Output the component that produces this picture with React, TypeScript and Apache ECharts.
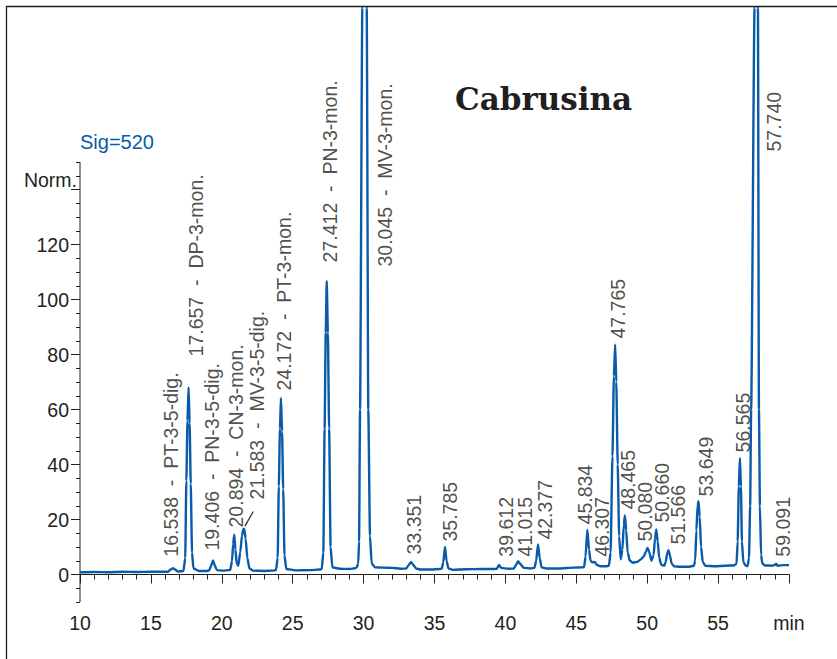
import React, { useEffect, useRef } from "react";
import * as echarts from "echarts";

// Detector trace, signal at 520 nm: [retention time (min), response (Norm.)]
const trace: [number, number][] = [
  [10.0, 0.8], [11.0, 0.9], [12.0, 0.8], [13.0, 1.0], [14.0, 0.9], [15.0, 1.0], [15.8, 1.0],
  [16.2, 1.0], [16.4, 1.8], [16.55, 2.3], [16.7, 1.8], [16.9, 1.1],
  [17.3, 1.3], [17.42, 6], [17.5, 34], [17.58, 56], [17.657, 68], [17.73, 55], [17.81, 33], [17.9, 8], [18.0, 2.2], [18.4, 1.3], [18.9, 1.3],
  [19.1, 1.4], [19.25, 3.2], [19.38, 5.1], [19.5, 3.4], [19.65, 1.6], [20.1, 1.4], [20.5, 1.6],
  [20.6, 1.7], [20.72, 5], [20.8, 11], [20.88, 14.5], [20.96, 9], [21.05, 4], [21.16, 3.2],
  [21.3, 8], [21.42, 14], [21.52, 16.5], [21.58, 16.7], [21.68, 13], [21.8, 6], [21.95, 2.2], [22.2, 1.4], [23.0, 1.3], [23.6, 1.4],
  [23.82, 1.6], [23.94, 6], [24.02, 32], [24.1, 53], [24.172, 64.2], [24.25, 52], [24.33, 31], [24.42, 7], [24.55, 2.0], [25.2, 1.5], [26.2, 1.6], [26.9, 1.8],
  [27.05, 2.0], [27.16, 8], [27.25, 53], [27.33, 88], [27.4, 106.7], [27.48, 88], [27.57, 53], [27.67, 10], [27.8, 2.6], [28.3, 2.1], [29.0, 2.0], [29.4, 2.3],
  [29.52, 2.6], [29.62, 4], [29.68, 12], [29.75, 60], [29.91, 206], [30.07, 500], [30.22, 206], [30.33, 60], [30.45, 14], [30.57, 4], [30.8, 2.6], [31.4, 2.5], [32.0, 2.4], [32.6, 2.1],
  [33.0, 2.2], [33.15, 3.2], [33.34, 4.6], [33.5, 3.5], [33.7, 2.2], [34.0, 1.8], [34.8, 1.8], [35.4, 2.0],
  [35.52, 2.2], [35.62, 4.5], [35.74, 10], [35.85, 5], [35.98, 2.2], [36.3, 1.7], [37.2, 1.9], [38.3, 2.0], [39.2, 2.0],
  [39.4, 2.1], [39.55, 3.5], [39.7, 2.4], [40.2, 2.1], [40.6, 2.2],
  [40.75, 3.5], [40.89, 4.8], [41.05, 3.8], [41.3, 2.4], [41.8, 2.2],
  [42.05, 2.4], [42.17, 5], [42.3, 10.9], [42.42, 6], [42.55, 2.6], [42.9, 2.2], [43.8, 2.2], [44.8, 2.5], [45.4, 2.6],
  [45.55, 2.7], [45.65, 6.5], [45.78, 16.3], [45.9, 9], [46.0, 5], [46.15, 4.4], [46.3, 4.6], [46.45, 3.5], [46.7, 3.0], [47.1, 3.0],
  [47.3, 3.2], [47.42, 8], [47.55, 43], [47.65, 72], [47.74, 83.6], [47.82, 70], [47.92, 40], [48.02, 14], [48.13, 5.5],
  [48.25, 9], [48.35, 18], [48.43, 21.5], [48.52, 16], [48.62, 8], [48.78, 5], [49.0, 4.3], [49.3, 4.6],
  [49.55, 5.5], [49.75, 6.5], [49.92, 8.5], [50.03, 9.7], [50.15, 8], [50.3, 5],
  [50.45, 7], [50.55, 13], [50.64, 16.4], [50.74, 12], [50.85, 6], [51.0, 3.5], [51.2, 3.2],
  [51.3, 4.5], [51.42, 7.8], [51.5, 8.8], [51.6, 7], [51.72, 4], [51.9, 3.0], [52.3, 2.8], [52.9, 2.8], [53.3, 3.2],
  [53.38, 5], [53.47, 16], [53.55, 25], [53.62, 26.7], [53.7, 21], [53.8, 10], [53.92, 4.5], [54.1, 3.2], [54.8, 3.0], [55.5, 3.2], [56.1, 3.3],
  [56.3, 3.8], [56.38, 12], [56.46, 32], [56.54, 42.4], [56.61, 32], [56.68, 12], [56.78, 4.5], [56.95, 3.2],
  [57.08, 3.0], [57.18, 6], [57.26, 25], [57.33, 60], [57.57, 206], [57.69, 600], [57.81, 206], [57.88, 60], [57.95, 25], [58.03, 7], [58.12, 4],
  [58.3, 3.3], [58.8, 3.2], [59.0, 3.5], [59.09, 3.9], [59.2, 3.2], [59.6, 3.4], [60.0, 3.4],
];

// Integrated peaks: retention time as printed, and compound where identified
const peakTimes = [
  "16.538", "17.657", "19.406", "20.894", "21.583", "24.172", "27.412", "30.045",
  "33.351", "35.785", "39.612", "41.015", "42.377", "45.834", "46.307", "47.765",
  "48.465", "50.080", "50.660", "51.566", "53.649", "56.565", "57.740", "59.091",
];
const peakNames = [
  "PT-3-5-dig.", "DP-3-mon.", "PN-3-5-dig.", "CN-3-mon.", "MV-3-5-dig.", "PT-3-mon.", "PN-3-mon.", "MV-3-mon.",
  "", "", "", "", "", "", "", "", "", "", "", "", "", "", "", "",
];

// Axis ticks
const majorYTicks = [0, 20, 40, 60, 80, 100, 120, 140];
const yTickLabels = [0, 20, 40, 60, 80, 100, 120];
const minorYTicks = [-10, -5, 0, 5, 10, 15, 20, 25, 30, 35, 40, 45, 50, 55, 60, 65, 70, 75, 80, 85, 90, 95, 100, 105, 110, 115, 120, 125, 130, 135, 140, 145, 150];

// Where each rotated peak annotation starts (time, level), in chart units
const labelAnchor: [number, number][] = [
  [16.42, 6.5], [18.18, 79.3], [19.3, 8.7], [21.0, 17.1], [22.48, 27.3], [24.39, 66.9], [27.63, 113.5], [31.51, 112],
  [33.58, 7.3], [36.1, 12], [40.05, 6.5], [41.4, 6.5], [42.82, 12.7], [45.63, 18.2], [46.81, 6.5], [47.94, 85.8],
  [48.65, 23.6], [49.85, 12], [51.05, 18.9], [52.18, 10.9], [54.15, 28.4], [56.76, 44.4], [58.94, 153.8], [59.58, 6.5],
];

const BLUE = "#0a5aaa";
const INK = "#231f20";
const FONT = '"Liberation Sans", Arial, Helvetica, sans-serif';

export default function App() {
  const ref = useRef<HTMLDivElement>(null);

  useEffect(() => {
    if (!ref.current) return;
    const chart = echarts.init(ref.current, undefined, { renderer: "svg" });

    const labelData = peakTimes.map((t, i) => ({
      name: peakNames[i] ? `${t}  -  ${peakNames[i]}` : t,
      value: labelAnchor[i],
    }));

    // leader from the shifted 21.583 annotation down to its peak
    const li = peakTimes.indexOf("21.583");
    const leader = [
      [labelAnchor[li][0] - 0.26, labelAnchor[li][1] - 4.4],
      [Number(peakTimes[li]) + 0.05, 17.6],
    ];

    chart.setOption({
      animation: false,
      backgroundColor: "#ffffff",
      textStyle: { fontFamily: FONT },
      grid: { left: 80, right: 48, top: 8, bottom: 57, containLabel: false },
      xAxis: {
        type: "value",
        min: 10,
        max: 60,
        interval: 5,
        axisLine: { lineStyle: { color: INK, width: 1 } },
        axisTick: { length: 9, lineStyle: { color: INK, width: 1 } },
        minorTick: { show: true, splitNumber: 5, length: 5, lineStyle: { color: INK, width: 1 } },
        axisLabel: {
          fontSize: 19.5,
          color: INK,
          margin: 11,
          showMinLabel: true,
          showMaxLabel: true,
          formatter: (v: number) => (v === 60 ? "min" : String(v)),
        },
        splitLine: { show: false },
        minorSplitLine: { show: false },
      },
      yAxis: [
        {
          type: "value",
          min: -10,
          max: 206,
          axisLine: { show: false },
          axisTick: { show: true, customValues: majorYTicks, length: 9, lineStyle: { color: INK, width: 1 } },
          axisLabel: { customValues: yTickLabels, fontSize: 19.5, color: INK, margin: 11 },
          splitLine: { show: false },
        },
        {
          type: "value",
          min: -10,
          max: 206,
          position: "left",
          axisLine: { show: false },
          axisTick: { show: true, customValues: minorYTicks, length: 4, lineStyle: { color: INK, width: 1 } },
          axisLabel: { show: false },
          splitLine: { show: false },
        },
      ],
      series: [
        {
          name: "axis",
          type: "line",
          data: [[10, -10], [10, 150]],
          symbol: "none",
          clip: false,
          silent: true,
          lineStyle: { color: INK, width: 1 },
          z: 1,
        },
        {
          name: "Sig=520",
          type: "line",
          data: trace,
          showSymbol: false,
          symbol: "none",
          smooth: 0.2,
          smoothMonotone: "x",
          lineStyle: { color: BLUE, width: 2.4 },
          z: 3,
        },
        {
          name: "leader",
          type: "line",
          data: leader,
          symbol: "none",
          silent: true,
          lineStyle: { color: INK, width: 1.2 },
          z: 3,
        },
        {
          name: "peaks",
          type: "scatter",
          data: labelData,
          symbolSize: 1,
          itemStyle: { color: "rgba(0,0,0,0)" },
          silent: true,
          label: {
            show: true,
            position: "inside",
            formatter: "{b}",
            rotate: 90,
            align: "left",
            verticalAlign: "middle",
            fontSize: 19.5,
            color: INK,
            fontFamily: FONT,
          },
          z: 4,
        },
      ],
      graphic: [
        {
          type: "rect",
          shape: { x: 6.5, y: 6.5, width: 900, height: 900 },
          style: { fill: "none", stroke: INK, lineWidth: 1.3 },
          silent: true,
          z: 10,
        },
        {
          type: "text",
          x: 455,
          y: 99,
          style: {
            text: "Cabrusina",
            font: 'bold 31px "DejaVu Serif", "Liberation Serif", serif',
            fill: INK,
            verticalAlign: "middle",
          },
        },
        {
          type: "text",
          x: 80,
          y: 142,
          style: { text: "Sig=520", font: `20px ${FONT}`, fill: BLUE, verticalAlign: "middle" },
        },
        {
          type: "text",
          x: 77,
          y: 180,
          style: { text: "Norm.", font: `19.5px ${FONT}`, fill: INK, align: "right", verticalAlign: "middle" },
        },
      ],
    });

    return () => chart.dispose();
  }, []);

  return (
    <div
      ref={ref}
      style={{ position: "fixed", left: 0, top: 0, width: 837, height: 659, background: "#fff" }}
    />
  );
}
